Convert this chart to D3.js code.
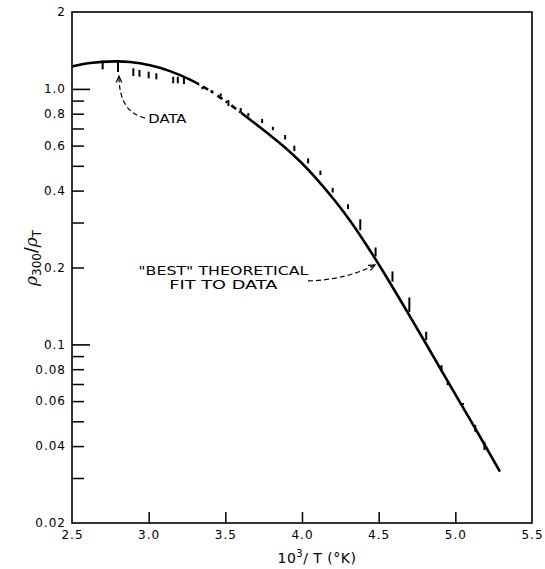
<!DOCTYPE html>
<html>
<head>
<meta charset="utf-8">
<script src="https://cdn.jsdelivr.net/npm/d3@7"></script>
<style>
  html, body { margin: 0; padding: 0; background: #fff; }
  svg { display: block; }
  text { font-family: "DejaVu Sans", sans-serif; fill: #000; }
</style>
</head>
<body>
<script>
// ---------- data ----------
const xTickValues = [2.5, 3.0, 3.5, 4.0, 4.5, 5.0, 5.5];
const xTickLabels = ["2.5", "3.0", "3.5", "4.0", "4.5", "5.0", "5.5"];
const yLabelValues = [2, 1.0, 0.8, 0.6, 0.4, 0.2, 0.1, 0.08, 0.06, 0.04, 0.02];
const yLabelTexts = ["2", "1.0", "0.8", "0.6", "0.4", "0.2", "0.1", "0.08", "0.06", "0.04", "0.02"];
const yMinorTicks = [0.9, 0.8, 0.7, 0.6, 0.5, 0.4, 0.3, 0.2, 0.09, 0.08, 0.07, 0.06, 0.05, 0.04, 0.03];
const yMajorTicks = [1.0, 0.1];

// measured data (vertical bars: high / low)
const dataX    = [2.70, 2.80, 2.90, 2.94, 3.00, 3.05, 3.16, 3.19, 3.23, 3.35, 3.41, 3.47, 3.52, 3.60, 3.65, 3.74, 3.81, 3.89, 3.95, 4.04, 4.12, 4.20, 4.30, 4.38, 4.48, 4.59, 4.70, 4.81, 4.91, 4.95, 5.05, 5.13, 5.19];
const dataHigh = [1.289, 1.286, 1.204, 1.186, 1.168, 1.151, 1.116, 1.116, 1.103, 1.020, 0.990, 0.960, 0.904, 0.842, 0.805, 0.763, 0.711, 0.660, 0.600, 0.535, 0.479, 0.410, 0.354, 0.309, 0.2395, 0.193, 0.1526, 0.1121, 0.0830, 0.0714, 0.0590, 0.0484, 0.0416];
const dataLow  = [1.193, 1.164, 1.123, 1.116, 1.100, 1.090, 1.052, 1.052, 1.045, 0.997, 0.964, 0.934, 0.857, 0.809, 0.780, 0.735, 0.690, 0.634, 0.571, 0.511, 0.460, 0.393, 0.339, 0.280, 0.221, 0.176, 0.134, 0.104, 0.0782, 0.0693, 0.0579, 0.0455, 0.0386];

// "best" theoretical fit
const fitX = [2.500, 2.617, 2.780, 2.878, 3.009, 3.139, 3.270, 3.400, 3.530, 3.641, 3.778, 3.889, 3.998, 4.106, 4.215, 4.324, 4.432, 4.541, 4.672, 4.802, 4.965, 5.128, 5.291];
const fitY = [1.224, 1.263, 1.282, 1.275, 1.237, 1.174, 1.087, 0.984, 0.870, 0.775, 0.669, 0.590, 0.513, 0.437, 0.365, 0.299, 0.239, 0.1878, 0.1388, 0.1022, 0.0693, 0.0471, 0.0318];
// stretch of the printed curve that appears broken (dash-dot) in the original
const fitBrokenRange = [3.33, 3.60];

// annotations (data coordinates)
const dataNote = { text: "DATA", x: 2.998, y: 0.733 };
const dataArrow = [[2.976, 0.769], [2.8065, 0.812], [2.8065, 1.123]];
const fitNote1 = { text: "\"BEST\" THEORETICAL", x: 3.487, y: 0.187 };
const fitNote2 = { text: "FIT TO DATA", x: 3.487, y: 0.1648 };
const fitArrow = [[4.039, 0.1772], [4.280, 0.1787], [4.476, 0.2046]];

// ---------- chart ----------
const W = 545, H = 569;
const svg = d3.select("body").append("svg").attr("width", W).attr("height", H);

const x = d3.scaleLinear().domain([2.5, 5.5]).range([72, 532]);
const y = d3.scaleLog().domain([0.02, 2]).range([523, 12]);

// bottom axis: inward ticks
const xAxis = d3.axisBottom(x).tickValues(xTickValues).tickSize(-11).tickPadding(7)
  .tickFormat((d, i) => xTickLabels[i]);
const gx = svg.append("g").attr("transform", `translate(0,${y(0.02)})`).call(xAxis);
gx.select(".domain").remove();
gx.selectAll(".tick line").attr("stroke", "#000").attr("stroke-width", 1.5)
  .filter(d => d === 2.5 || d === 5.5).remove();
gx.selectAll(".tick text").attr("font-size", 12).attr("letter-spacing", "1px")
  .attr("font-family", "DejaVu Sans");

// left axis labels
const yAxisLabels = d3.axisLeft(y).tickValues(yLabelValues).tickSize(0).tickPadding(6)
  .tickFormat((d, i) => yLabelTexts[i]);
const gyl = svg.append("g").attr("transform", `translate(${x(2.5)},0)`).call(yAxisLabels);
gyl.select(".domain").remove();
gyl.selectAll(".tick text").attr("font-size", 12).attr("letter-spacing", "1px")
  .attr("font-family", "DejaVu Sans");

// left axis minor ticks (inward)
const gym = svg.append("g").attr("transform", `translate(${x(2.5)},0)`)
  .call(d3.axisLeft(y).tickValues(yMinorTicks).tickSize(-12).tickFormat(""));
gym.select(".domain").remove();
gym.selectAll(".tick line").attr("stroke", "#000").attr("stroke-width", 1.5);

// left axis major ticks (longer)
const gyM = svg.append("g").attr("transform", `translate(${x(2.5)},0)`)
  .call(d3.axisLeft(y).tickValues(yMajorTicks).tickSize(-18).tickFormat(""));
gyM.select(".domain").remove();
gyM.selectAll(".tick line").attr("stroke", "#000").attr("stroke-width", 1.6);

// frame
svg.append("rect")
  .attr("x", x(2.5)).attr("y", y(2))
  .attr("width", x(5.5) - x(2.5)).attr("height", y(0.02) - y(2))
  .attr("fill", "none").attr("stroke", "#000").attr("stroke-width", 1.6);

// clip paths for the theoretical curve (solid part / broken part)
const defs = svg.append("defs");
const cpSolid = defs.append("clipPath").attr("id", "cpSolid");
cpSolid.append("rect").attr("x", 0).attr("y", 0).attr("width", x(fitBrokenRange[0])).attr("height", H);
cpSolid.append("rect").attr("x", x(fitBrokenRange[1])).attr("y", 0).attr("width", W).attr("height", H);
defs.append("clipPath").attr("id", "cpBroken").append("rect")
  .attr("x", x(fitBrokenRange[0])).attr("y", 0)
  .attr("width", x(fitBrokenRange[1]) - x(fitBrokenRange[0])).attr("height", H);

// theoretical curve
const fitPts = fitX.map((v, i) => [v, fitY[i]]);
const line = d3.line().x(d => x(d[0])).y(d => y(d[1])).curve(d3.curveCatmullRom.alpha(0.5));
svg.append("path").datum(fitPts).attr("d", line)
  .attr("clip-path", "url(#cpSolid)")
  .attr("fill", "none").attr("stroke", "#000").attr("stroke-width", 2.6);
svg.append("path").datum(fitPts).attr("d", line)
  .attr("clip-path", "url(#cpBroken)")
  .attr("fill", "none").attr("stroke", "#000").attr("stroke-width", 2.6)
  .attr("stroke-dasharray", "6,4,2,5");

// data bars
svg.append("g").selectAll("line")
  .data(dataX.map((v, i) => ({ x: v, hi: dataHigh[i], lo: dataLow[i] })))
  .join("line")
  .attr("x1", d => x(d.x)).attr("x2", d => x(d.x))
  .attr("y1", d => y(d.hi)).attr("y2", d => y(d.lo))
  .attr("stroke", "#000").attr("stroke-width", 2);

// annotations
function arrowPath(pts) {
  const p = pts.map(d => [x(d[0]), y(d[1])]);
  return `M${p[0][0]},${p[0][1]} Q${p[1][0]},${p[1][1]} ${p[2][0]},${p[2][1]}`;
}
function arrowHead(pts, len, ang) {
  const p1 = [x(pts[1][0]), y(pts[1][1])];
  const p2 = [x(pts[2][0]), y(pts[2][1])];
  const a = Math.atan2(p2[1] - p1[1], p2[0] - p1[0]);
  const l = [p2[0] - len * Math.cos(a - ang), p2[1] - len * Math.sin(a - ang)];
  const r = [p2[0] - len * Math.cos(a + ang), p2[1] - len * Math.sin(a + ang)];
  return `M${l[0]},${l[1]} L${p2[0]},${p2[1]} L${r[0]},${r[1]}`;
}

const ann = svg.append("g");
ann.append("path").attr("d", arrowPath(dataArrow))
  .attr("fill", "none").attr("stroke", "#000").attr("stroke-width", 1.2)
  .attr("stroke-dasharray", "5,3");
ann.append("path").attr("d", arrowHead(dataArrow, 7, 0.4))
  .attr("fill", "none").attr("stroke", "#000").attr("stroke-width", 1.2);

ann.append("path").attr("d", arrowPath(fitArrow))
  .attr("fill", "none").attr("stroke", "#000").attr("stroke-width", 1.2)
  .attr("stroke-dasharray", "5,3");
ann.append("path").attr("d", arrowHead(fitArrow, 7, 0.4))
  .attr("fill", "none").attr("stroke", "#000").attr("stroke-width", 1.2);

ann.append("text").attr("x", x(dataNote.x)).attr("y", y(dataNote.y))
  .attr("font-size", 13).attr("textLength", 38).attr("lengthAdjust", "spacingAndGlyphs")
  .text(dataNote.text);
ann.append("text").attr("x", x(fitNote1.x)).attr("y", y(fitNote1.y))
  .attr("text-anchor", "middle").attr("font-size", 12.5)
  .attr("textLength", 170).attr("lengthAdjust", "spacingAndGlyphs")
  .text(fitNote1.text);
ann.append("text").attr("x", x(fitNote2.x)).attr("y", y(fitNote2.y))
  .attr("text-anchor", "middle").attr("font-size", 12.5)
  .attr("textLength", 108).attr("lengthAdjust", "spacingAndGlyphs")
  .text(fitNote2.text);

// x-axis title
const xt = svg.append("text").attr("x", 317).attr("y", 563)
  .attr("text-anchor", "middle").attr("font-size", 14).attr("letter-spacing", "0.5px");
xt.append("tspan").text("10");
xt.append("tspan").attr("dy", -6).attr("font-size", 10).text("3");
xt.append("tspan").attr("dy", 6).text("/ T (°K)");

// y-axis title
const yt = svg.append("text").attr("transform", "translate(37,258) rotate(-90)")
  .attr("text-anchor", "middle").attr("font-size", 17);
yt.append("tspan").attr("font-style", "italic").attr("font-family", "DejaVu Serif").text("ρ");
yt.append("tspan").attr("dy", 4).attr("font-size", 12).text("300");
yt.append("tspan").attr("dy", -4).text("/");
yt.append("tspan").attr("font-style", "italic").attr("font-family", "DejaVu Serif").text("ρ");
yt.append("tspan").attr("dy", 4).attr("font-size", 12).text("T");
</script>
</body>
</html>
